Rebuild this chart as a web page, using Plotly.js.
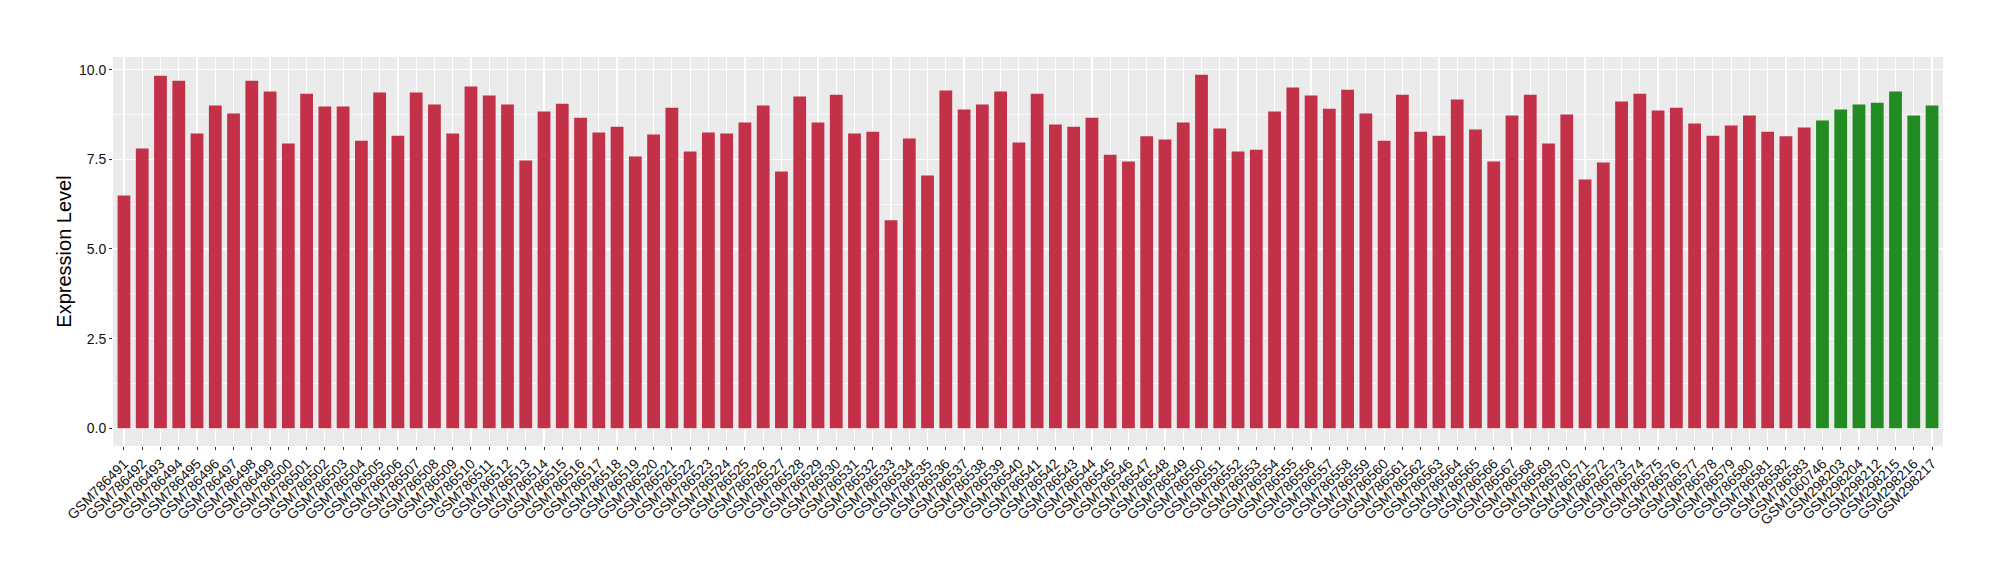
<!DOCTYPE html>
<html>
<head>
<meta charset="utf-8">
<script src="https://cdn.plot.ly/plotly-3.0.1.min.js"></script>
<style>html,body{margin:0;padding:0;background:#fff;}#chart{width:2000px;height:580px;}</style>
</head>
<body>
<div id="chart"></div>
<script>
var tumorSamples = [
  "GSM786491","GSM786492","GSM786493","GSM786494","GSM786495","GSM786496","GSM786497","GSM786498","GSM786499","GSM786500",
  "GSM786501","GSM786502","GSM786503","GSM786504","GSM786505","GSM786506","GSM786507","GSM786508","GSM786509","GSM786510",
  "GSM786511","GSM786512","GSM786513","GSM786514","GSM786515","GSM786516","GSM786517","GSM786518","GSM786519","GSM786520",
  "GSM786521","GSM786522","GSM786523","GSM786524","GSM786525","GSM786526","GSM786527","GSM786528","GSM786529","GSM786530",
  "GSM786531","GSM786532","GSM786533","GSM786534","GSM786535","GSM786536","GSM786537","GSM786538","GSM786539","GSM786540",
  "GSM786541","GSM786542","GSM786543","GSM786544","GSM786545","GSM786546","GSM786547","GSM786548","GSM786549","GSM786550",
  "GSM786551","GSM786552","GSM786553","GSM786554","GSM786555","GSM786556","GSM786557","GSM786558","GSM786559","GSM786560",
  "GSM786561","GSM786562","GSM786563","GSM786564","GSM786565","GSM786566","GSM786567","GSM786568","GSM786569","GSM786570",
  "GSM786571","GSM786572","GSM786573","GSM786574","GSM786575","GSM786576","GSM786577","GSM786578","GSM786579","GSM786580",
  "GSM786581","GSM786582","GSM786583"
];
var tumorValues = [
  6.49,7.80,9.83,9.69,8.22,9.00,8.78,9.69,9.39,7.94,
  9.33,8.97,8.97,8.02,9.36,8.16,9.36,9.03,8.22,9.53,
  9.28,9.03,7.47,8.83,9.05,8.66,8.25,8.41,7.58,8.19,
  8.94,7.72,8.25,8.22,8.53,9.00,7.16,9.25,8.53,9.30,
  8.22,8.27,5.80,8.08,7.05,9.42,8.89,9.03,9.39,7.97,
  9.33,8.47,8.41,8.66,7.63,7.44,8.14,8.05,8.53,9.86,
  8.36,7.72,7.77,8.83,9.50,9.28,8.91,9.44,8.78,8.02,
  9.30,8.27,8.16,9.17,8.33,7.44,8.72,9.30,7.94,8.75,
  6.94,7.41,9.11,9.33,8.86,8.94,8.50,8.16,8.44,8.72,
  8.27,8.14,8.39
];
var normalSamples = ["GSM1060746","GSM298203","GSM298204","GSM298212","GSM298215","GSM298216","GSM298217"];
var normalValues = [8.58,8.89,9.03,9.08,9.39,8.72,9.00];

var tumorColor = "#C33149";
var normalColor = "#228B22";

var categories = tumorSamples.concat(normalSamples);
var values = tumorValues.concat(normalValues);
var colors = tumorSamples.map(function(){return tumorColor;}).concat(normalSamples.map(function(){return normalColor;}));

var trace = {
  type: "bar",
  x: categories,
  y: values,
  marker: {color: colors, line: {width: 0}},
  width: 0.7,
  hoverinfo: "x+y"
};

var tickFont = {family: "Liberation Sans, Arial, sans-serif", size: 14, color: "#111111"};

var layout = {
  width: 2000,
  height: 580,
  margin: {l: 113, r: 57, t: 57, b: 134},
  paper_bgcolor: "#ffffff",
  plot_bgcolor: "#EBEBEB",
  showlegend: false,
  xaxis: {
    type: "category",
    range: [-0.6, categories.length - 0.4],
    tickangle: -45,
    tickfont: tickFont,
    ticks: "outside",
    ticklen: 3,
    tickwidth: 1,
    tickcolor: "#333333",
    showgrid: true,
    gridcolor: "#ffffff",
    gridwidth: 1.2,
    zeroline: false,
    showline: false,
    automargin: false
  },
  yaxis: {
    range: [-0.493, 10.353],
    tickmode: "array",
    tickvals: [0, 2.5, 5, 7.5, 10],
    ticktext: ["0.0", "2.5", "5.0", "7.5", "10.0"],
    tickfont: tickFont,
    ticks: "outside",
    ticklen: 3,
    tickwidth: 1,
    tickcolor: "#333333",
    showgrid: true,
    gridcolor: "#ffffff",
    gridwidth: 1.5,
    minor: {tickmode: "array", tickvals: [1.25, 3.75, 6.25, 8.75], showgrid: true, gridcolor: "#ffffff", gridwidth: 0.7, ticks: ""},
    zeroline: false,
    showline: false,
    automargin: false,
    title: {text: "Expression Level", font: {family: "Liberation Sans, Arial, sans-serif", size: 20, color: "#000000"}, standoff: 1}
  }
};

Plotly.newPlot("chart", [trace], layout, {displayModeBar: false, staticPlot: true});
</script>
</body>
</html>
